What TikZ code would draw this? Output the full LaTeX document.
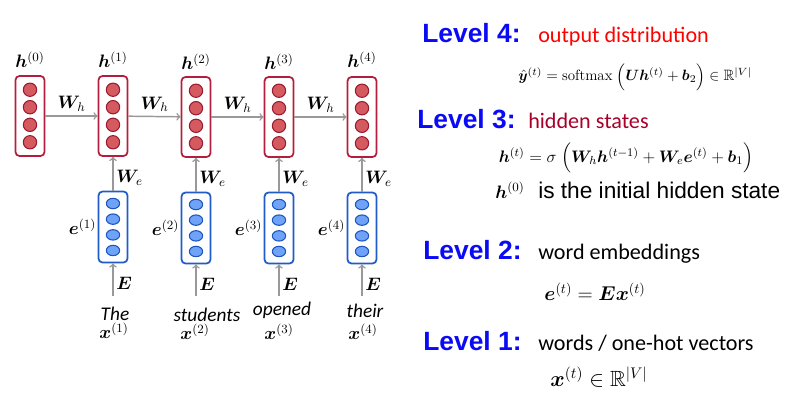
\documentclass[tikz,border=0pt]{standalone}
\usepackage{fix-cm}
\usepackage{amsmath,amssymb,bm}
\usepackage{fontspec}
\usetikzlibrary{shapes.geometric}
\newfontfamily\levelfont{Liberation Sans}[BoldFont={Liberation Sans Bold}]
\newfontfamily\calfont{Carlito}
\definecolor{hred}{HTML}{B41E3C}
\definecolor{hdark}{HTML}{9A1B30}
\definecolor{hfill}{HTML}{D55A60}
\definecolor{eblue}{HTML}{1F5CC8}
\definecolor{edark}{HTML}{1E56C0}
\definecolor{efill}{HTML}{6FA3F7}
\definecolor{lvblue}{HTML}{0A0AF5}
\definecolor{outred}{HTML}{FF0000}
\definecolor{hidred}{HTML}{A8002A}
\definecolor{arrowgray}{HTML}{999999}

\begin{document}
\begin{tikzpicture}[x=0.75pt,y=-0.75pt,
	hbox/.style={draw=hred,line width=1.3pt,rounded corners=3pt,minimum width=21.75pt,minimum height=60pt,inner sep=0},
	ebox/.style={draw=eblue,line width=1.3pt,rounded corners=3pt,minimum width=21.75pt,minimum height=53.25pt,inner sep=0},
	hdot/.style={circle,draw=hdark,fill=hfill,line width=0.8pt,minimum size=10pt,inner sep=0},
	edot/.style={ellipse,draw=edark,fill=efill,line width=0.8pt,minimum width=10pt,minimum height=7.8pt,inner sep=0},
	conn/.style={draw=arrowgray,line width=1.1pt,->},
	lbl/.style={font=\fontsize{13.5}{16}\selectfont,inner sep=1pt},
	word/.style={font=\calfont\itshape\fontsize{14.5}{16}\selectfont,inner sep=0},
	level/.style={font=\levelfont\bfseries\fontsize{19.8}{22}\selectfont,text=lvblue,anchor=base west,inner sep=0},
	desc/.style={font=\calfont\fontsize{16.6}{19}\selectfont,anchor=base west,inner sep=0},
	formula/.style={inner sep=0}]
	\useasboundingbox (0,0) rectangle (785,410);
	% hidden states
	\node[hbox] (h0) at (30,116) {};
	\node[hbox] (h1) at (113,116) {};
	\node[hbox] (h2) at (196,117) {};
	\node[hbox] (h3) at (279,117) {};
	\node[hbox] (h4) at (362,117) {};
	\foreach \n in {0,...,4}
		\foreach \k/\d in {1/19.7,2/6.6,3/-6.6,4/-19.7}
			\node[hdot] (h\n c\k) at ([yshift=\d pt]h\n.center) {};
	\node[lbl] (hl0) at (30,60) {$\bm{h}^{(0)}$};
	\node[lbl] (hl1) at (113,60) {$\bm{h}^{(1)}$};
	\node[lbl] (hl2) at (196,62) {$\bm{h}^{(2)}$};
	\node[lbl] (hl3) at (279,62) {$\bm{h}^{(3)}$};
	\node[lbl] (hl4) at (362,60) {$\bm{h}^{(4)}$};
	% embeddings
	\node[ebox] (e1) at (113,227) {};
	\node[ebox] (e2) at (196,228) {};
	\node[ebox] (e3) at (279,228) {};
	\node[ebox] (e4) at (362,228) {};
	\foreach \n in {1,...,4}
		\foreach \k/\d in {1/17.6,2/5.9,3/-5.9,4/-17.6}
			\node[edot] (e\n c\k) at ([yshift=\d pt]e\n.center) {};
	\node[lbl,anchor=east] (el1) at (e1.west) {$\bm{e}^{(1)}$};
	\node[lbl,anchor=east] (el2) at (e2.west) {$\bm{e}^{(2)}$};
	\node[lbl,anchor=east] (el3) at (e3.west) {$\bm{e}^{(3)}$};
	\node[lbl,anchor=east] (el4) at (e4.west) {$\bm{e}^{(4)}$};
	% words
	\coordinate (x1) at (113,296);
	\coordinate (x2) at (196,296);
	\coordinate (x3) at (279,296);
	\coordinate (x4) at (362,296);
	\node[word] (w1) at (115,314) {The};
	\node[word] (w2) at (207,315) {students};
	\node[word] (w3) at (282,310) {opened};
	\node[word] (w4) at (365,311) {their};
	\node[lbl] (xl1) at (114,331) {$\bm{x}^{(1)}$};
	\node[lbl] (xl2) at (195,332) {$\bm{x}^{(2)}$};
	\node[lbl] (xl3) at (279,332) {$\bm{x}^{(3)}$};
	\node[lbl] (xl4) at (363,332) {$\bm{x}^{(4)}$};
	% connectors
	\draw[conn] (h0) -- node[lbl,above=2pt,text=black] {$\bm{W}_h$} (h1);
	\draw[conn] (h1) -- node[lbl,above=2pt,text=black] {$\bm{W}_h$} (h2);
	\draw[conn] (h2) -- node[lbl,above=2pt,text=black] {$\bm{W}_h$} (h3);
	\draw[conn] (h3) -- node[lbl,above=2pt,text=black] {$\bm{W}_h$} (h4);
	\draw[conn] (e1) -- node[lbl,right=1pt,yshift=-3pt,text=black] {$\bm{W}_e$} (h1);
	\draw[conn] (e2) -- node[lbl,right=1pt,yshift=-3pt,text=black] {$\bm{W}_e$} (h2);
	\draw[conn] (e3) -- node[lbl,right=1pt,yshift=-3pt,text=black] {$\bm{W}_e$} (h3);
	\draw[conn] (e4) -- node[lbl,right=1pt,yshift=-3pt,text=black] {$\bm{W}_e$} (h4);
	\draw[conn] (x1) -- node[lbl,right=1pt,yshift=-3pt,text=black] {$\bm{E}$} (e1);
	\draw[conn] (x2) -- node[lbl,right=1pt,yshift=-3pt,text=black] {$\bm{E}$} (e2);
	\draw[conn] (x3) -- node[lbl,right=1pt,yshift=-3pt,text=black] {$\bm{E}$} (e3);
	\draw[conn] (x4) -- node[lbl,right=1pt,yshift=-3pt,text=black] {$\bm{E}$} (e4);
	% levels
	\node[level] (lv4) at (422,43) {Level 4:};
	\node[desc,text=outred] (d4) at (538,43) {output distribution};
	\node[formula,font=\fontsize{11.2}{13}\selectfont] (f4) at (635,77) {$\hat{\bm{y}}^{(t)} = \mathrm{softmax}\;\Bigl(\bm{U}\bm{h}^{(t)} + \bm{b}_2\Bigr) \in \mathbb{R}^{|V|}$};
	\node[level] (lv3) at (417,128) {Level 3:};
	\node[desc,text=hidred] (d3) at (528,128) {hidden states};
	\node[formula,font=\fontsize{12.5}{15}\selectfont] (f3) at (626,158) {$\bm{h}^{(t)} = \sigma\;\Bigl(\bm{W}_h\bm{h}^{(t-1)} + \bm{W}_e\bm{e}^{(t)} + \bm{b}_1\Bigr)$};
	\node[anchor=base west,inner sep=0,font=\fontsize{13.5}{16}\selectfont] (h0t) at (495,198) {$\bm{h}^{(0)}$};
	\node[anchor=base west,inner sep=0,font=\levelfont\fontsize{17}{20}\selectfont] (init) at (538,198) {is the initial hidden state};
	\node[level] (lv2) at (423,259) {Level 2:};
	\node[desc] (d2) at (538,259) {word embeddings};
	\node[formula,font=\fontsize{15}{17}\selectfont] (f2) at (595,292) {$\bm{e}^{(t)} = \bm{E}\bm{x}^{(t)}$};
	\node[level] (lv1) at (423,350) {Level 1:};
	\node[desc] (d1) at (538,350) {words / one-hot vectors};
	\node[formula,font=\fontsize{16.5}{19}\selectfont] (f1) at (599,377) {$\bm{x}^{(t)} \in \mathbb{R}^{|V|}$};
\end{tikzpicture}
\end{document}
